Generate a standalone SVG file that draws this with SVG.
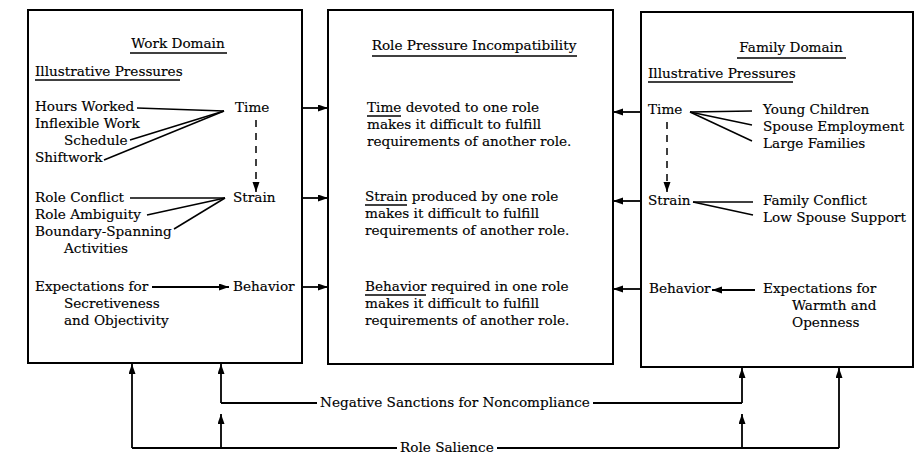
<svg xmlns="http://www.w3.org/2000/svg" width="917" height="454" viewBox="0 0 917 454">
<defs>
<marker id="ah" markerUnits="userSpaceOnUse" markerWidth="11" markerHeight="8" refX="10" refY="3.5" orient="auto">
<path d="M0,0 L10,3.5 L0,7 z" fill="#000"/>
</marker>
<style>
text{font-family:"DejaVu Serif","Liberation Serif",serif;font-size:13.6px;fill:#000;stroke:#000;stroke-width:0.15}
.box{fill:#fff;stroke:#000;stroke-width:2}
.ln{stroke:#000;stroke-width:1.5;fill:none}
.ul{stroke:#000;stroke-width:1.3}
.ar{stroke:#000;stroke-width:1.8;fill:none;marker-end:url(#ah)}
.dash{stroke:#000;stroke-width:1.5;fill:none;stroke-dasharray:7,6;marker-end:url(#ah)}
.mid{text-anchor:middle}
</style>
</defs>
<rect width="917" height="454" fill="#fff"/>

<g id="work-domain">
<rect class="box" x="28" y="10" width="274" height="353"/>
<text class="mid" x="178" y="48">Work Domain</text>
<line class="ul" x1="130" y1="53" x2="227" y2="53"/>
<text x="35" y="76">Illustrative Pressures</text>
<line class="ul" x1="35" y1="80" x2="180" y2="80"/>
<text x="35" y="111">Hours Worked</text>
<text x="35" y="128">Inflexible Work</text>
<text x="64" y="145">Schedule</text>
<text x="35" y="162">Shiftwork</text>
<text x="235" y="112">Time</text>
<text x="35" y="202">Role Conflict</text>
<text x="35" y="219">Role Ambiguity</text>
<text x="35" y="236">Boundary-Spanning</text>
<text x="64" y="253">Activities</text>
<text x="233" y="202">Strain</text>
<text x="35" y="291">Expectations for</text>
<text x="64" y="308">Secretiveness</text>
<text x="64" y="325">and Objectivity</text>
<text x="233" y="291">Behavior</text>
<line class="ln" x1="137" y1="108" x2="224" y2="111"/>
<line class="ln" x1="130" y1="140" x2="224" y2="111"/>
<line class="ln" x1="104" y1="160" x2="224" y2="111"/>
<line class="ln" x1="130" y1="198" x2="225" y2="198"/>
<line class="ln" x1="147" y1="215" x2="225" y2="198"/>
<line class="ln" x1="174" y1="229" x2="225" y2="198"/>
<line class="ar" x1="152" y1="287" x2="229" y2="287"/>
<line class="dash" x1="256" y1="120" x2="256" y2="192"/>
</g>

<g id="role-pressure-incompatibility">
<rect class="box" x="328" y="10" width="285" height="354"/>
<text class="mid" x="474" y="50">Role Pressure Incompatibility</text>
<line class="ul" x1="372" y1="56" x2="577" y2="56" style="stroke-width:1.6"/>
<text x="367" y="112">Time devoted to one role</text>
<line class="ul" x1="367" y1="116" x2="401" y2="116"/>
<text x="367" y="129">makes it difficult to fulfill</text>
<text x="367" y="146">requirements of another role.</text>
<text x="365" y="201">Strain produced by one role</text>
<line class="ul" x1="365" y1="205" x2="407" y2="205"/>
<text x="365" y="218">makes it difficult to fulfill</text>
<text x="365" y="235">requirements of another role.</text>
<text x="365" y="291">Behavior required in one role</text>
<line class="ul" x1="365" y1="295" x2="426" y2="295"/>
<text x="365" y="308">makes it difficult to fulfill</text>
<text x="365" y="325">requirements of another role.</text>
</g>

<g id="family-domain">
<rect class="box" x="641" y="12" width="272" height="355"/>
<text class="mid" x="791" y="52">Family Domain</text>
<line class="ul" x1="737" y1="58" x2="846" y2="58"/>
<text x="648" y="78">Illustrative Pressures</text>
<line class="ul" x1="648" y1="82" x2="793" y2="82"/>
<text x="648" y="114">Time</text>
<text x="763" y="114">Young Children</text>
<text x="763" y="131">Spouse Employment</text>
<text x="763" y="148">Large Families</text>
<line class="ln" x1="690" y1="112" x2="752" y2="111"/>
<line class="ln" x1="690" y1="112" x2="752" y2="125"/>
<line class="ln" x1="690" y1="112" x2="752" y2="141"/>
<line class="dash" x1="667" y1="122" x2="667" y2="192"/>
<text x="648" y="205">Strain</text>
<text x="763" y="205">Family Conflict</text>
<text x="763" y="222">Low Spouse Support</text>
<line class="ln" x1="693" y1="202" x2="753" y2="202"/>
<line class="ln" x1="693" y1="202" x2="753" y2="215"/>
<text x="649" y="293">Behavior</text>
<line class="ar" x1="755" y1="290" x2="712" y2="290"/>
<text x="763" y="293">Expectations for</text>
<text x="792" y="310">Warmth and</text>
<text x="792" y="327">Openness</text>
</g>

<g id="connectors">
<line class="ar" x1="302" y1="108" x2="328" y2="108"/>
<line class="ar" x1="302" y1="198" x2="328" y2="198"/>
<line class="ar" x1="302" y1="287" x2="328" y2="287"/>
<line class="ar" x1="641" y1="112" x2="613" y2="112"/>
<line class="ar" x1="641" y1="201" x2="613" y2="201"/>
<line class="ar" x1="641" y1="289" x2="613" y2="289"/>
<path class="ar" d="M132,448 V364"/>
<path class="ar" d="M221,403 V364"/>
<path class="ar" d="M221,448 V414"/>
<path class="ln" d="M221,403 H317" style="stroke-width:1.8"/>
<text x="320" y="407">Negative Sanctions for Noncompliance</text>
<path class="ln" d="M593,403 H742" style="stroke-width:1.8"/>
<path class="ar" d="M742,403 V368"/>
<path class="ar" d="M742,448 V414"/>
<path class="ln" d="M132,448 H397" style="stroke-width:1.8"/>
<text x="400" y="452">Role Salience</text>
<path class="ln" d="M497,448 H839" style="stroke-width:1.8"/>
<path class="ar" d="M839,448 V368"/>
</g>
</svg>
